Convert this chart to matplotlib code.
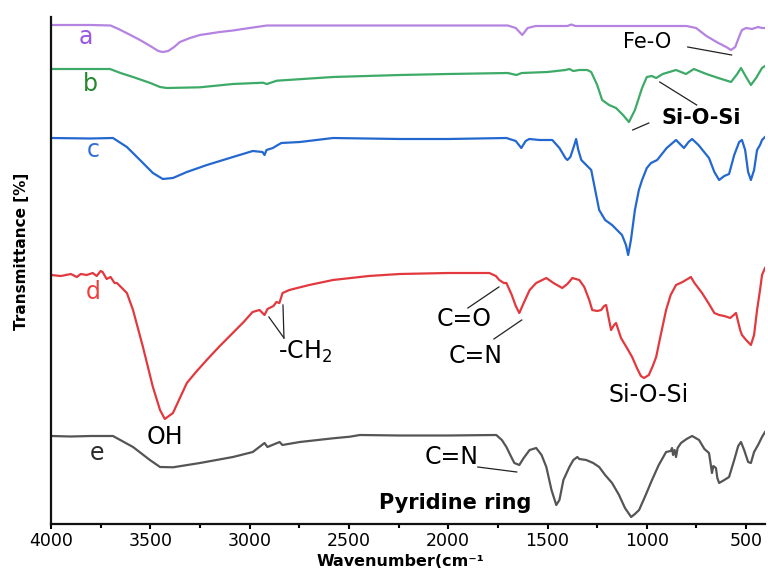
import matplotlib
matplotlib.use("Agg")
import matplotlib.pyplot as plt
from matplotlib.ticker import MultipleLocator

plt.rcParams['font.family'] = ['DejaVu Sans']

# ---------------- data (wavenumber, transmittance in arbitrary offset units) -------------
wn_a = [4000, 3900, 3800, 3700, 3660, 3600, 3552, 3500, 3460, 3437, 3410, 3380, 3351, 3300, 3250,
        3150, 3084, 3000, 2913, 2700, 2500, 2000, 1700, 1660, 1627, 1600, 1560, 1400, 1380, 1360,
        1000, 800, 752, 700, 640, 600, 576, 555, 530, 521, 500, 470, 440, 420, 405]
t_a = [499, 499, 499, 498.5, 495, 489, 484, 478, 473, 472, 473, 477, 482, 486, 489,
       492, 493.5, 496, 498.5, 498.5, 498.5, 498.5, 498.5, 496, 489, 496, 498, 498, 499.5, 498,
       498, 498, 496, 488, 481, 477, 474, 477, 490, 494, 496, 495, 497, 496, 496]

wn_b = [4000, 3800, 3703, 3650, 3587, 3500, 3451, 3417, 3250, 3084, 2933, 2913, 2863, 2580, 2244,
        2000, 1700, 1657, 1630, 1500, 1410, 1390, 1370, 1340, 1300, 1280, 1250, 1225, 1190, 1155,
        1120, 1090, 1060, 1024, 1000, 975, 953, 920, 853, 803, 763, 700, 640, 576, 545, 526, 500,
        476, 450, 420, 405]
t_b = [455, 455, 455, 451, 447, 441, 437, 436, 436.7, 440, 441.3, 440, 443.3, 447, 449,
       450, 451, 449, 451, 452, 454, 455, 453, 454, 454, 452, 439, 424, 419, 416,
       409, 402, 414, 436, 447, 448, 446, 450, 454, 450, 455, 450, 446, 442, 450, 456, 447,
       439, 446, 456, 458]

wn_c = [4000, 3800, 3688, 3618, 3552, 3487, 3437, 3386, 3316, 3215, 3084, 2984, 2935, 2925, 2915,
        2883, 2858, 2840, 2747, 2580, 2245, 2000, 1707, 1660, 1632, 1610, 1592, 1540, 1476, 1440,
        1410, 1400, 1385, 1365, 1356, 1345, 1330, 1300, 1280, 1260, 1240, 1210, 1175, 1150, 1125,
        1105, 1094, 1080, 1060, 1040, 1024, 1000, 979, 948, 900, 853, 813, 790, 772, 740, 687,
        660, 636, 610, 586, 560, 535, 521, 505, 490, 476, 460, 445, 430, 420, 405]
t_c = [386, 385.5, 386, 377, 364, 351, 345, 346, 352, 359, 367, 373, 372, 369, 374,
       376, 379, 381, 382, 386, 385, 385, 386, 383, 376, 383, 385, 384, 384, 376,
       366, 364, 367, 379, 385, 374, 364, 358, 354, 334, 314, 304, 299, 294, 289,
       279, 269, 284, 314, 334, 344, 356, 361, 364, 376, 384, 376, 382, 385, 379, 366,
       352, 344, 348, 350, 369, 382, 384, 374, 352, 344, 354, 374, 379, 384, 387]

wn_d = [4000, 3950, 3900, 3870, 3850, 3820, 3790, 3770, 3750, 3740, 3720, 3700, 3680, 3668, 3618,
        3587, 3537, 3487, 3451, 3427, 3386, 3316, 3270, 3216, 3150, 3085,
        3030, 2985, 2950, 2925, 2910, 2880, 2865, 2850, 2834, 2800, 2700, 2580, 2400, 2245, 2000,
        1793, 1760, 1743, 1720, 1707, 1680, 1660, 1642, 1620, 1590, 1557, 1506, 1470, 1426, 1400,
        1375, 1340, 1315, 1290, 1275, 1250, 1230, 1215, 1205, 1190, 1180, 1165, 1155, 1140, 1130,
        1100, 1074, 1050, 1030, 1014, 990, 970, 953, 930, 903, 880, 853, 820, 778, 760, 722, 690,
        660, 636, 610, 580, 551, 530, 521, 500, 476, 460, 445, 430, 420, 405]
t_d = [249, 248, 250, 247, 250, 249, 251, 248, 253, 252, 245, 247, 241, 241, 231,
       214, 177, 137, 114, 105, 111, 141, 152, 164, 178, 191,
       202, 212, 214, 209, 215, 218, 222, 221, 231, 234, 239, 244, 248, 250, 251,
       251, 248, 244, 241, 241, 229, 218, 211, 221, 234, 241, 246, 241, 236, 240,
       246, 244, 237, 224, 214, 213, 214, 218, 219, 204, 194, 199, 201, 192, 186,
       176, 167, 156, 148, 146, 149, 158, 167, 189, 214, 229, 239, 242, 247, 241, 231, 221,
       211, 209, 208, 206, 211, 194, 189, 184, 179, 189, 214, 234, 249, 256]

wn_e = [4000, 3900, 3800, 3688, 3587, 3502, 3451, 3386, 3250, 3084, 2984, 2925, 2910, 2849, 2835,
        2747, 2580, 2495, 2445, 2245, 2000, 1758, 1730, 1707, 1680, 1667,
        1642, 1620, 1590, 1557, 1530, 1506, 1480, 1456, 1440, 1420, 1390, 1370, 1350, 1340, 1305,
        1270, 1240, 1210, 1175, 1140, 1110, 1079, 1060, 1039, 1010, 974, 940, 903, 880, 873, 868,
        860, 853, 845, 828, 800, 772, 737, 710, 687, 680, 672, 665, 652, 645, 636, 610, 586, 560,
        540, 526, 510, 490, 476, 460, 440, 420, 405]
t_e = [88, 87.5, 88, 88, 77, 64, 57, 56.7, 61, 67, 72, 81, 77, 82, 79,
       82, 85.7, 87.3, 89, 88.5, 88.5, 89, 84, 77, 66, 61,
       59, 66, 74, 76, 69, 57, 34, 19, 24, 44, 57, 64, 67, 65, 64,
       61, 57, 49, 41, 29, 16, 7, 10, 14, 27, 44, 59, 72, 73, 76, 69,
       74, 67, 76, 81, 85, 88, 84, 75, 71, 62, 51, 58, 56, 46, 41, 44, 47, 64,
       78, 82, 74, 62, 61, 72, 79, 87, 92]

series_labels = ['a', 'b', 'c', 'd', 'e']
line_colors = ['#b583e0', '#3daa68', '#2468cf', '#e2393f', '#555555']
label_colors = ['#9d55e6', '#24882c', '#2f6fd8', '#ee4040', '#2b2b2b']
label_pos = [(3824, 487), (3804, 440), (3789, 374), (3789, 232), (3768, 71)]

xticks = [4000, 3500, 3000, 2500, 2000, 1500, 1000, 500]

# ---------------- figure ----------------
fig = plt.figure(figsize=(7.68, 5.69), dpi=100)
L, R, B, T = 51 / 768, 765 / 768, (569 - 524) / 569, (569 - 17) / 569
ax = fig.add_axes([L, B, R - L, T - B])

data = [(wn_a, t_a), (wn_b, t_b), (wn_c, t_c), (wn_d, t_d), (wn_e, t_e)]
for (w, t), c in zip(data, line_colors):
    ax.plot(w, t, color=c, lw=1.6, solid_joinstyle='round')

for lab, (x, y), c in zip(series_labels, label_pos, label_colors):
    ax.text(x, y, lab, color=c, fontsize=17, ha='center', va='center')

ax.set_xlim(4000, 405)
ax.set_ylim(0, 507)
ax.set_xticks(xticks)
ax.set_xticklabels([str(v) for v in xticks])
ax.xaxis.set_minor_locator(MultipleLocator(250))
ax.set_yticks([])
for s in ['top', 'right']:
    ax.spines[s].set_visible(False)
for s in ['left', 'bottom']:
    ax.spines[s].set_linewidth(1.6)
    ax.spines[s].set_color('#111111')
ax.tick_params(axis='x', which='major', direction='out', length=3.5, width=1.5,
               labelsize=12.5, pad=2)
ax.tick_params(axis='x', which='minor', direction='out', length=3.0, width=1.5)

ax.set_xlabel('Wavenumber(cm\u207b\u00b9', fontsize=11.5, fontweight='bold', va='bottom')
ax.xaxis.set_label_coords((400 - 51) / 714, (524 - 569) / 507)
ax.set_ylabel('Transmittance [%]', fontsize=11, fontweight='bold', va='center')
ax.yaxis.set_label_coords((22 - 51) / 714, (524 - 251) / 507)

# ---------------- annotations ----------------
lk = dict(color='#222222', lw=0.9)
ax.text(1000, 481.5, 'Fe-O', fontsize=15, ha='center', va='center')
ax.plot([794, 573], [477, 469], **lk)

ax.text(724, 406.5, 'Si-O-Si', fontsize=15, fontweight='bold', ha='center', va='center')
ax.plot([935, 749], [442, 419], **lk)
ax.plot([1071, 990], [394, 401], **lk)

ax.text(2722, 172, '-CH$_2$', fontsize=17, ha='center', va='center')
ax.plot([2903, 2827], [207, 186], **lk)
ax.plot([2832, 2827], [219, 186], **lk)

ax.text(1922, 205, 'C=O', fontsize=17, ha='center', va='center')
ax.plot([1901, 1745], [216, 237], **lk)

ax.text(1861, 168, 'C=N', fontsize=17, ha='center', va='center')
ax.plot([1770, 1630], [185, 204], **lk)

ax.text(990, 129, 'Si-O-Si', fontsize=17, ha='center', va='center')
ax.text(3426, 87, 'OH', fontsize=17, ha='center', va='center')

ax.text(1982, 67, 'C=N', fontsize=17, ha='center', va='center')
ax.plot([1851, 1655], [57, 52], **lk)

ax.text(1967, 21, 'Pyridine ring', fontsize=15, fontweight='bold', ha='center', va='center')

fig.savefig('out.png', dpi=100)
